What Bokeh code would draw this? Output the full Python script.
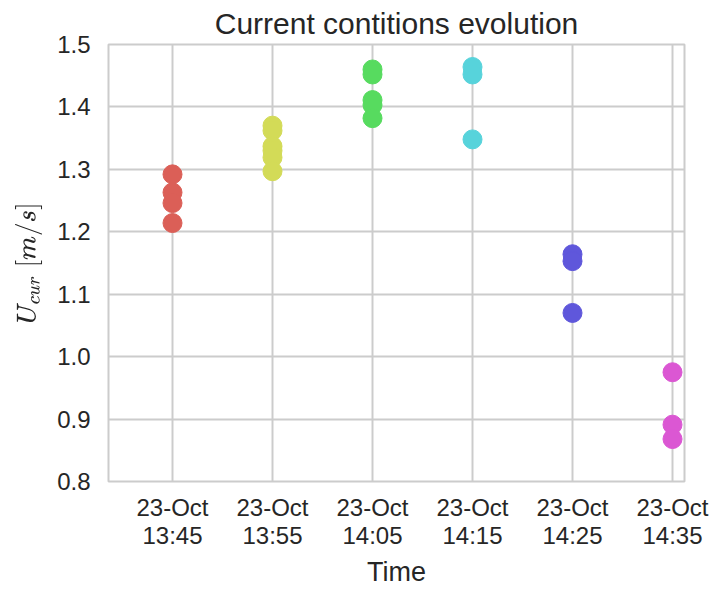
import datetime as dt
from bokeh.plotting import figure
from bokeh.models import FixedTicker, DatetimeTickFormatter, Range1d, NumeralTickFormatter
from bokeh.embed import file_html
from bokeh.resources import INLINE

# Data
times = ["13:45", "13:55", "14:05", "14:15", "14:25", "14:35"]
colors = ["#db5f57", "#d3db57", "#57db5f", "#57d3db", "#5f57db", "#db57d3"]
u_1345 = [1.292, 1.263, 1.246, 1.214]
u_1355 = [1.370, 1.362, 1.337, 1.330, 1.319, 1.297]
u_1405 = [1.460, 1.452, 1.411, 1.403, 1.382]
u_1415 = [1.464, 1.452, 1.348]
u_1425 = [1.164, 1.153, 1.070]
u_1435 = [0.975, 0.891, 0.868]
groups = [u_1345, u_1355, u_1405, u_1415, u_1425, u_1435]
y_ticks = [0.8, 0.9, 1.0, 1.1, 1.2, 1.3, 1.4, 1.5]

day = dt.date(2015, 10, 23)
def t(s):
    h, m = map(int, s.split(":"))
    return dt.datetime(day.year, day.month, day.day, h, m)

tick_dt = [t(s) for s in times]
epoch = dt.datetime(1970, 1, 1)
tick_ms = [(d - epoch).total_seconds() * 1000 for d in tick_dt]

FONT = "Liberation Sans"
p = figure(width=711, height=589, output_backend="svg", toolbar_location=None,
           x_axis_type="datetime",
           x_range=Range1d(t("13:45") - dt.timedelta(minutes=6, seconds=24),
                           t("14:35") + dt.timedelta(minutes=1, seconds=12)),
           y_range=Range1d(0.8, 1.5),
           min_border_left=108, min_border_right=27, min_border_top=44, min_border_bottom=107,
           title="Current contitions evolution")

for d, vals, c in zip(tick_dt, groups, colors):
    p.scatter([d] * len(vals), vals, size=19, color=c, line_color=c)

p.title.align = "center"
p.title.text_font = FONT
p.title.text_font_size = "30px"
p.title.text_font_style = "normal"
p.title.text_color = "#262626"
p.title.offset = 0
p.title.standoff = 9

p.xaxis.ticker = FixedTicker(ticks=tick_ms)
fmt = "%d-%b\n%H:%M"
p.xaxis.formatter = DatetimeTickFormatter(minutes=fmt, hourmin=fmt, hours=fmt, minsec=fmt,
                                          seconds=fmt, days=fmt)
p.yaxis.ticker = FixedTicker(ticks=y_ticks)
p.yaxis.formatter = NumeralTickFormatter(format="0.0")

p.xaxis.axis_label = "Time"
p.yaxis.axis_label = r"$$U_{cur}\;[m/s]$$"

for ax in (p.xaxis, p.yaxis):
    ax.major_label_text_font = FONT
    ax.major_label_text_font_size = "24px"
    ax.major_label_text_color = "#262626"
    ax.axis_label_text_font = FONT
    ax.axis_label_text_font_size = "27px"
    ax.axis_label_text_font_style = "normal"
    ax.axis_label_text_color = "#262626"
    ax.axis_line_color = None
    ax.major_tick_line_color = None
    ax.minor_tick_line_color = None
    ax.major_label_standoff = 12
p.yaxis.axis_label_text_font_size = "22px"
p.xaxis.major_label_standoff = 6
p.xaxis.major_label_text_line_height = 1.05
p.xaxis.axis_label_standoff = 5
p.yaxis.axis_label_standoff = 12

p.grid.grid_line_color = "#cccccc"
p.grid.grid_line_width = 2
p.outline_line_color = "#cccccc"
p.outline_line_width = 2
p.background_fill_color = "white"
p.border_fill_color = "white"

open("out.html", "w").write(file_html(p, INLINE))
